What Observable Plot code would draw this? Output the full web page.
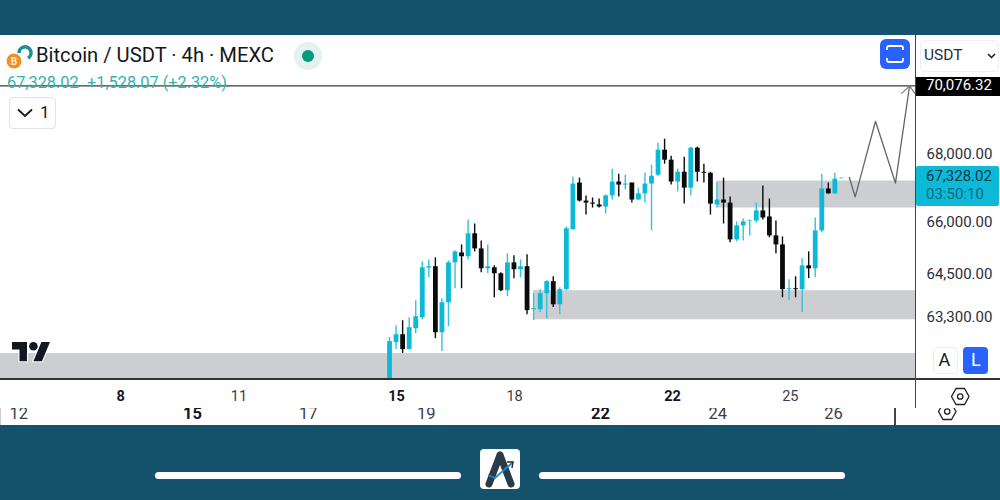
<!DOCTYPE html>
<html>
<head>
<meta charset="utf-8">
<script src="https://cdn.jsdelivr.net/npm/d3@7"></script>
<script src="https://cdn.jsdelivr.net/npm/@observablehq/plot@0.6"></script>
<style>
html,body{margin:0;padding:0;background:#fff;width:1000px;height:500px;overflow:hidden;font-family:Roboto,sans-serif}
#chart{position:absolute;left:0;top:0}
.a{position:absolute}
.t{position:absolute;white-space:nowrap;line-height:1}
</style>
</head>
<body>
<div id="chart"></div>
<script>
const opens =  [61600,62580,62800,62390,62965,63270,64670,64710,62855,63690,64820,65105,64995,65655,65220,64650,64680,64510,64030,64820,64625,64710,63495,63495,63945,64285,63635,64060,65770,67140,66610,66550,66495,66435,66760,67170,67080,67140,66640,66820,67110,67370,68120,67820,67170,67460,66990,68180,67460,67430,66495,66640,66550,65480,65885,66012,66027,66320,66145,65595,65335,64060,64085,64060,64735,64650,65740,66965,66820,67270];
const highs =  [62720,63050,63190,63270,63747,64850,64905,64965,63800,64878,65165,65335,66055,65940,65450,65335,64735,64540,65080,65020,64905,65050,63945,64060,64310,64425,64115,65855,67310,67285,66760,66700,66670,66790,67550,67400,67370,67140,66990,67430,67670,68330,68450,67940,67550,67910,68210,68210,67700,67460,67140,67285,66730,66000,66085,66055,66550,67050,66670,66027,65565,64340,64425,64935,65135,66115,67400,67140,67430,67290];
const lows =   [61600,62390,62280,62390,62825,63215,64395,62690,62335,63020,64085,64085,64905,65135,64540,64510,63830,64000,63860,64370,64395,63355,63190,63415,63245,63555,63355,64030,65770,66580,66200,66405,66405,66230,66640,66730,66935,66550,66640,66550,65740,67340,67700,67080,66875,66520,66760,67170,67140,66200,66405,65940,65395,65420,65450,65595,65970,66055,65540,65080,63830,63747,63830,63415,64370,64395,65680,66820,66820,67260];
const closes = [62610,62800,62390,62995,63300,64680,64710,62855,63690,64820,65135,64995,65655,65220,64650,64710,64510,64030,64820,64625,64710,63470,63525,63945,64285,63635,64060,65800,67110,66610,66550,66520,66435,66760,67170,67080,67110,66640,66820,67110,67340,68120,67820,67170,67460,66990,68180,67460,67430,66520,66640,66550,65480,65885,66000,66027,66320,66115,65595,65335,64060,64085,64060,64735,64650,65740,66965,66820,67255,67285];

const zoneStart = [-59.4, 22, 50];
const zoneTop =   [62280, 64030, 67200];
const zoneBottom =[61600, 63215, 66405];

const forecastX = [70.2, 71.1, 74.2, 77.25, 79.4];
const forecastY = [67310, 66730, 68993, 67140, 70076.32];
const headX = [78.2, 79.4, 80.2];
const headY = [69847, 70076.32, 69847];

const targetPrice = 70076.32;
const lastPrice = 67328.02;
const countdown = "03:50:10";
const priceTicks = [68000, 66000, 64500, 63300];

const dayPosA = [-41.07, -23, 1.07, 19.1, 43.2, 61.2];
const dayLabelA = ["8","11","15","18","22","25"];
const dayBoldA = [true,false,true,false,true,false];
const dayPosB = [-56.6, -30.1, -12.4, 5.6, 32.2, 50.1, 67.8];
const dayLabelB = ["12","15","17","19","22","24","26"];
const dayBoldB = [false,true,false,false,true,false,false];

const BULL = "#0cb9d6", BULLWICK = "#35c2d8", BEAR = "#0b0b0e", INK = "#2a2e39";
const fmt = d3.format(",.2f");

const candles = opens.map((o,i)=>({i,o,h:highs[i],l:lows[i],c:closes[i],up:closes[i]>=o}));
const zones = zoneStart.map((s,i)=>({s,top:zoneTop[i],bottom:zoneBottom[i]}));
const rowA = dayPosA.map((x,i)=>({x,label:dayLabelA[i],bold:dayBoldA[i]}));
const rowB = dayPosB.map((x,i)=>({x,label:dayLabelB[i],bold:dayBoldB[i]}));
const xEnd = 80.31;

const dayText = (data,bold,dy,size)=>Plot.text(data.filter(d=>d.bold===bold),{
  x:"x",text:"label",frameAnchor:"bottom",dy,fontSize:size,fontWeight:bold?700:400,fill:bold?"#131722":"#3a3e49",lineAnchor:"middle"});

const plot = Plot.plot({
  width:1000,height:500,
  marginLeft:0,marginRight:85,marginTop:35,marginBottom:122,
  style:{fontFamily:"Roboto, sans-serif",background:"transparent"},
  x:{type:"linear",domain:[-59.4,xEnd],axis:null},
  y:{type:"log",domain:[61600,71650],axis:null},
  marks:[
    Plot.rect(zones,{x1:"s",x2:()=>xEnd,y1:"bottom",y2:"top",fill:"#cdced1"}),
    Plot.ruleY([targetPrice],{stroke:"#3a3a3a",strokeWidth:1.2}),
    Plot.ruleX(candles,{x:"i",y1:"l",y2:"h",stroke:d=>d.up?BULLWICK:BEAR,strokeWidth:1.4}),
    Plot.ruleX(candles,{x:"i",y1:"o",y2:"c",stroke:d=>d.up?BULL:BEAR,strokeWidth:4.8}),
    Plot.line(forecastX.map((x,i)=>({x,y:forecastY[i]})),{x:"x",y:"y",stroke:"#666",strokeWidth:1.3}),
    Plot.line(headX.map((x,i)=>({x,y:headY[i]})),{x:"x",y:"y",stroke:"#777",strokeWidth:1.1}),
    Plot.axisY(priceTicks,{anchor:"right",tickSize:0,tickPadding:11,tickFormat:fmt,fontSize:15,fill:INK,label:null}),
    dayText(rowA,true,18,14.5),
    dayText(rowA,false,18,14.5),
    dayText(rowB,true,35,16.5),
    dayText(rowB,false,35,16.5)
  ]
});
plot.style.color = INK;
document.getElementById("chart").append(plot);
const lay = (html)=>document.body.insertAdjacentHTML("beforeend",html);
lay(`
<div class="a" style="left:0;top:0;width:1000px;height:35px;background:#15536c"></div>
<div class="a" style="left:0;top:425px;width:1000px;height:75px;background:#15536c"></div>
<div class="a" style="left:0;top:378px;width:1000px;height:1.5px;background:#333"></div>
<div class="a" style="left:914.5px;top:35px;width:1.5px;height:373px;background:#444"></div>
<div class="a" style="left:0;top:406.5px;width:914px;height:1.5px;background:#fff"></div>
<div class="a" style="left:894px;top:408px;width:1.5px;height:17px;background:#444"></div>
<div class="a" style="left:0;top:408px;width:1px;height:17px;background:#ccc"></div>

<svg class="a" style="left:5px;top:43px" width="28" height="28" viewBox="0 0 28 28">
  <path d="M14 10 A6 6 0 1 1 23 15" fill="none" stroke="#1f8f90" stroke-width="3.5"/>
  <circle cx="9" cy="18" r="7.5" fill="#f0902c"/>
  <text x="9" y="22" font-size="10" font-weight="700" text-anchor="middle" fill="#ffe9cc" font-family="Roboto">B</text>
</svg>
<div class="t" style="left:36px;top:45px;font-size:20.2px;color:#131722">Bitcoin / USDT · 4h · MEXC</div>
<svg class="a" style="left:293px;top:42px" width="30" height="30"><circle cx="15" cy="14" r="14" fill="#e3f1ef"/><circle cx="15" cy="14" r="6" fill="#089981"/></svg>
<div class="t" style="left:7px;top:75px;font-size:16.3px;color:#2fb5ad">${fmt(lastPrice)}</div>
<div class="t" style="left:87px;top:75px;font-size:16.3px;color:#2fb5ad">+1,528.07 (+2.32%)</div>
<div class="a" style="left:9px;top:97px;width:45px;height:30px;border:1px solid #e0e3eb;border-radius:4px;background:#fff"></div>
<svg class="a" style="left:17px;top:107px" width="16" height="12"><path d="M1 2.5 L8 9 L15 2.5" fill="none" stroke="#131722" stroke-width="1.8"/></svg>
<div class="t" style="left:40px;top:104px;font-size:17px;color:#131722">1</div>

<div class="a" style="left:880px;top:39px;width:30px;height:30px;border-radius:6px;background:#2962ff"></div>
<svg class="a" style="left:880px;top:39px" width="30" height="30"><path d="M7 11 V9 Q7 7 9 7 H21 Q23 7 23 9 V11 M7 19 V21 Q7 23 9 23 H21 Q23 23 23 21 V19" fill="none" stroke="#fff" stroke-width="1.8"/></svg>
<div class="a" style="left:920px;top:40px;width:77px;height:30px;border:1px solid #eceef2;border-radius:5px"></div>
<div class="t" style="left:924px;top:48px;font-size:15.5px;color:#2a2e39">USDT</div>
<svg class="a" style="left:987px;top:52px" width="10" height="8"><path d="M1 2 L4.5 5.5 L8 2" fill="none" stroke="#131722" stroke-width="1.5"/></svg>

<div class="a" style="left:916px;top:77px;width:84px;height:19px;background:#000"></div>
<div class="t" style="left:926px;top:78px;font-size:15px;color:#fff">${fmt(targetPrice)}</div>
<div class="a" style="left:916px;top:166px;width:83px;height:40px;background:#0cb9d6;border-radius:2px"></div>
<div class="t" style="left:926px;top:169px;font-size:15px;color:#0f3a48">${fmt(lastPrice)}</div>
<div class="t" style="left:926px;top:187px;font-size:15px;color:#0c6a7d">${countdown}</div>

<svg class="a" style="left:12px;top:342px;overflow:visible" width="38" height="20" viewBox="0 4 35.5 18.7">
  <g fill="#131722" stroke="#fff" stroke-width="2" paint-order="stroke">
    <path d="M14 22H7V11H0V4h14v18z"/><path d="M28 22h-8l7.5-18h8L28 22z"/><circle cx="20" cy="8" r="4"/>
  </g>
</svg>
<div class="a" style="left:933px;top:347px;width:23px;height:25px;border:1px solid #eceef2;border-radius:4px;background:#fff"></div>
<div class="t" style="left:938.5px;top:351px;font-size:18px;color:#131722">A</div>
<div class="a" style="left:963px;top:347px;width:25px;height:27px;border-radius:4px;background:#2962ff"></div>
<div class="t" style="left:971px;top:351px;font-size:18px;color:#fff">L</div>

<svg class="a" style="left:948px;top:386px" width="24" height="21"><path d="M3.5 10.5 L8 2.5 H16.5 L21 10.5 L16.5 18.5 H8 Z" fill="none" stroke="#222" stroke-width="1.3"/><circle cx="12.2" cy="10.5" r="2.7" fill="none" stroke="#222" stroke-width="1.3"/></svg>
<div class="a" style="left:935px;top:408px;width:26px;height:17px;overflow:hidden"><svg class="a" style="left:0;top:-7px" width="24" height="21"><path d="M3.5 10.5 L8 2.5 H16.5 L21 10.5 L16.5 18.5 H8 Z" fill="none" stroke="#222" stroke-width="1.3"/><circle cx="12.2" cy="10.5" r="2.7" fill="none" stroke="#222" stroke-width="1.3"/></svg></div>

<div class="a" style="left:155px;top:472px;width:306px;height:7px;border-radius:4px;background:#fff"></div>
<div class="a" style="left:539px;top:472px;width:306px;height:7px;border-radius:4px;background:#fff"></div>
<div class="a" style="left:480px;top:449px;width:40px;height:40px;border-radius:4px;background:#fff"></div>
<svg class="a" style="left:480px;top:449px" width="40" height="40">
  <path d="M20 6 L9 35 M20 6 L31 35" stroke="#2a3a48" stroke-width="7" stroke-linecap="round" fill="none"/>
  <path d="M8 26 L15 29 L32 14" stroke="#1e88c8" stroke-width="1.8" fill="none"/>
  <path d="M27 13 L33 13 L32 19" stroke="#1e2b38" stroke-width="1.5" fill="none"/>
</svg>
`);
</script>
</body>
</html>
